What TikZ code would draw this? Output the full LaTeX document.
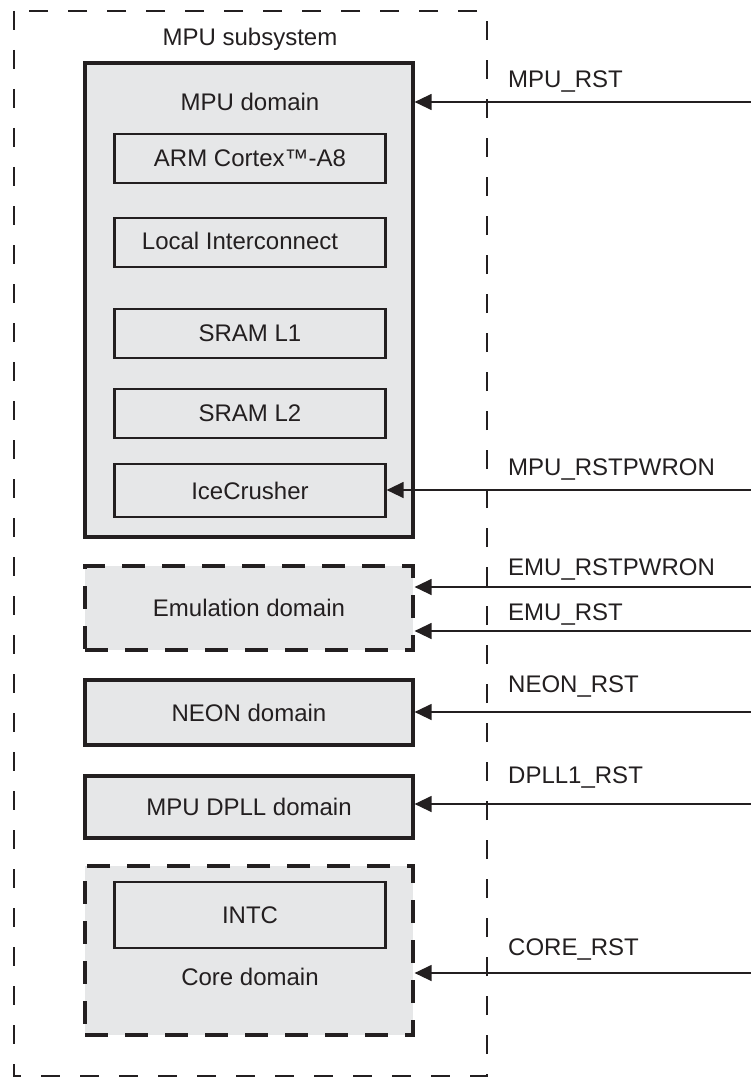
\documentclass[tikz,border=0pt]{standalone}
\usepackage{fontspec}
\setmainfont{Liberation Sans}
\usetikzlibrary{arrows.meta}
\definecolor{ink}{RGB}{35,31,32}
\definecolor{domgray}{RGB}{230,231,232}
\tikzset{
  subsys/.style={draw=ink,line width=2.2pt,dash pattern=on 19pt off 20pt},
  dombox/.style={draw=ink,fill=domgray,line width=3.2pt,minimum width=328pt},
  dashdom/.style={dombox,dash pattern=on 23pt off 17pt},
  unitbox/.style={draw=ink,line width=2.2pt,minimum width=271pt,minimum height=49pt},
  rstline/.style={draw=ink,line width=1.3pt,-{Triangle[length=17pt,width=16pt]}},
  rstlabel/.style={anchor=base west},
}

\begin{document}
\begin{tikzpicture}[x=1pt,y=-1pt]
	\tikzstyle{every node}+=[inner sep=0pt,text=ink,font=\fontsize{24}{28}\selectfont]
	\useasboundingbox (0,0) rectangle (751,1078);
	\draw[subsys] (14,11) rectangle (487,1076);
	\node[anchor=base] (subsysname) at (250,46) {MPU subsystem};
	% MPU domain
	\node[dombox,minimum height=474pt] (mpudom) at (249,300) {};
	\node[anchor=base] (mpudomname) at (250,111) {MPU domain};
	\node[unitbox] (arm) at (250,158.5) {ARM Cortex™-A8};
	\node[unitbox] (lic) at (250,242.5) {};
	\node (licname) at (240,241) {Local Interconnect};
	\node[unitbox] (sraml1) at (250,333.5) {SRAM L1};
	\node[unitbox] (sraml2) at (250,413.5) {SRAM L2};
	\node[unitbox,minimum height=53pt] (icecr) at (250,490.5) {IceCrusher};
	% other domains
	\node[dashdom,minimum height=84pt] (emudom) at (249,608) {Emulation domain};
	\node[dombox,minimum height=65pt] (neondom) at (249,712.5) {NEON domain};
	\node[dombox,minimum height=62pt] (dplldom) at (249,807) {MPU DPLL domain};
	\node[dashdom,minimum height=169pt] (coredom) at (249,950.5) {};
	\node[unitbox,minimum height=66pt] (intc) at (250,915) {INTC};
	\node[anchor=base] (coredomname) at (250,985) {Core domain};
	% resets
	\coordinate (mpurst) at (751,102);
	\coordinate (mpurstpwron) at (751,490);
	\coordinate (emurstpwron) at (751,587);
	\coordinate (emurst) at (751,631);
	\coordinate (neonrst) at (751,712);
	\coordinate (dpllrst) at (751,804);
	\coordinate (corerst) at (751,973);
	\draw[rstline] (mpurst) -- (mpurst -| mpudom.east);
	\draw[rstline] (mpurstpwron) -- (mpurstpwron -| icecr.east);
	\draw[rstline] (emurstpwron) -- (emurstpwron -| emudom.east);
	\draw[rstline] (emurst) -- (emurst -| emudom.east);
	\draw[rstline] (neonrst) -- (neonrst -| neondom.east);
	\draw[rstline] (dpllrst) -- (dpllrst -| dplldom.east);
	\draw[rstline] (corerst) -- (corerst -| coredom.east);
	\node[rstlabel] (mpurstname) at (508,88) {MPU\_RST};
	\node[rstlabel] (mpurstpwronname) at (508,475) {MPU\_RSTPWRON};
	\node[rstlabel] (emurstpwronname) at (508,575) {EMU\_RSTPWRON};
	\node[rstlabel] (emurstname) at (508,620) {EMU\_RST};
	\node[rstlabel] (neonrstname) at (508,692) {NEON\_RST};
	\node[rstlabel] (dpllrstname) at (508,783) {DPLL1\_RST};
	\node[rstlabel] (corerstname) at (508,955) {CORE\_RST};
\end{tikzpicture}
\end{document}
